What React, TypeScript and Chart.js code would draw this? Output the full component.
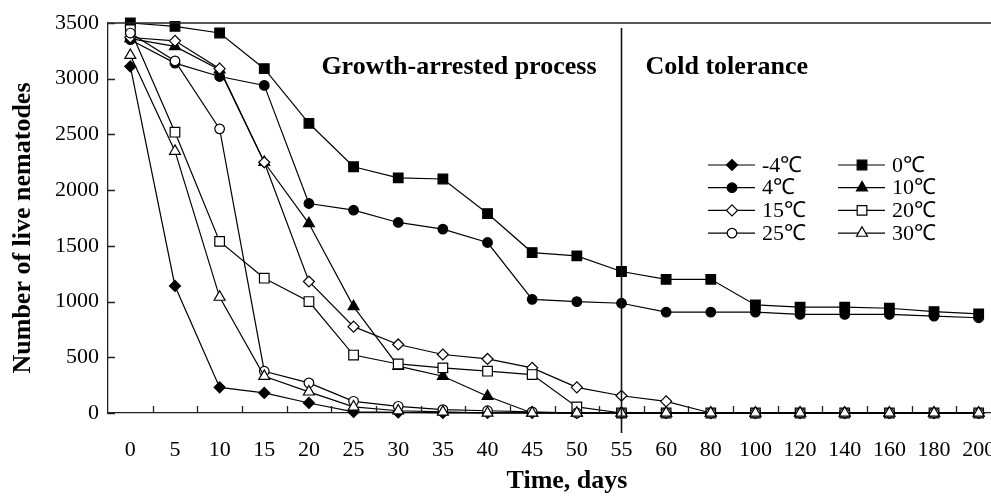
import React, { useEffect, useRef } from 'react';
import { Chart, registerables } from 'chart.js';
import { drawPoint } from 'chart.js/helpers';

Chart.register(...registerables);

const categories = ['0', '5', '10', '15', '20', '25', '30', '35', '40', '45', '50', '55', '60', '80', '100', '120', '140', '160', '180', '200'];

const seriesLabels = ['-4℃', '0℃', '4℃', '10℃', '15℃', '20℃', '25℃', '30℃'];

const tempM4 = [3110, 1140, 230, 180, 90, 10, 5, 0, 0, 0, 0, 0, 0, 0, 0, 0, 0, 0, 0, 0];
const temp0 = [3500, 3470, 3410, 3090, 2600, 2210, 2110, 2100, 1790, 1440, 1410, 1270, 1200, 1200, 970, 950, 950, 940, 910, 890];
const temp4 = [3350, 3140, 3020, 2940, 1880, 1820, 1710, 1650, 1530, 1020, 1000, 985, 905, 905, 905, 885, 885, 885, 870, 855];
const temp10 = [3360, 3290, 3080, 2250, 1700, 955, 420, 330, 150, 0, 0, 0, 0, 0, 0, 0, 0, 0, 0, 0];
const temp15 = [3370, 3340, 3090, 2250, 1180, 775, 615, 525, 485, 405, 230, 155, 105, 0, 0, 0, 0, 0, 0, 0];
const temp20 = [3440, 2520, 1540, 1210, 1000, 520, 440, 405, 375, 345, 55, 0, 0, 0, 0, 0, 0, 0, 0, 0];
const temp25 = [3410, 3160, 2550, 375, 270, 105, 60, 30, 20, 10, 0, 0, 0, 0, 0, 0, 0, 0, 0, 0];
const temp30 = [3210, 2350, 1040, 330, 190, 55, 20, 10, 0, 0, 0, 0, 0, 0, 0, 0, 0, 0, 0, 0];

const seriesValues = [tempM4, temp0, temp4, temp10, temp15, temp20, temp25, temp30];

const yMin = 0;
const yMax = 3500;
const yStep = 500;

const dividerCategory = '55';
const phaseLeftLabel = 'Growth-arrested process';
const phaseRightLabel = 'Cold tolerance';
const xTitle = 'Time, days';
const yTitle = 'Number of live nematodes';

const FONT = "'Liberation Serif', 'Times New Roman', Times, serif";

// marker styles per series (style only)
const markerStyles = [
  { pointStyle: 'rectRot', fill: '#000', radius: 5.5 },
  { pointStyle: 'rect', fill: '#000', radius: 6.8 },
  { pointStyle: 'circle', fill: '#000', radius: 4.8 },
  { pointStyle: 'triangle', fill: '#000', radius: 6.3 },
  { pointStyle: 'rectRot', fill: '#fff', radius: 5.5 },
  { pointStyle: 'rect', fill: '#fff', radius: 6.8 },
  { pointStyle: 'circle', fill: '#fff', radius: 4.8 },
  { pointStyle: 'triangle', fill: '#fff', radius: 6.3 },
];

const decorPlugin = {
  id: 'decor',
  afterDraw(chart: any) {
    const { ctx, chartArea: ca, scales } = chart;
    const x = scales.x;
    const y = scales.y;
    ctx.save();
    ctx.strokeStyle = '#222';
    ctx.lineWidth = 1.3;
    ctx.beginPath();
    // top frame
    ctx.moveTo(ca.left, ca.top);
    ctx.lineTo(ca.right, ca.top);
    // y inner ticks
    for (let i = 0; i < y.ticks.length; i++) {
      const py = Math.round(y.getPixelForTick(i)) + 0.5;
      ctx.moveTo(ca.left, py);
      ctx.lineTo(ca.left + 7, py);
    }
    // x inner ticks at category boundaries
    for (let i = 1; i <= categories.length; i++) {
      const px = Math.round(x.getPixelForValue(i - 0.5)) + 0.5;
      ctx.moveTo(px, ca.bottom);
      ctx.lineTo(px, ca.bottom - 7);
    }
    ctx.stroke();

    // divider line
    const dIdx = categories.indexOf(dividerCategory);
    const dx = Math.round(x.getPixelForValue(dIdx)) + 0.5;
    ctx.lineWidth = 1.6;
    ctx.strokeStyle = '#111';
    ctx.beginPath();
    ctx.moveTo(dx, ca.top + 5);
    ctx.lineTo(dx, ca.bottom + 20);
    ctx.stroke();

    // phase labels
    ctx.fillStyle = '#000';
    ctx.font = `bold 26px ${FONT}`;
    ctx.textBaseline = 'middle';
    const ty = y.getPixelForValue(3105);
    ctx.textAlign = 'right';
    ctx.fillText(phaseLeftLabel, dx - 25, ty);
    ctx.textAlign = 'left';
    ctx.fillText(phaseRightLabel, dx + 24, ty);

    // axis titles
    ctx.textAlign = 'center';
    ctx.fillText(xTitle, 567, 481);
    ctx.save();
    ctx.translate(23, 228);
    ctx.rotate(-Math.PI / 2);
    ctx.fillText(yTitle, 0, 0);
    ctx.restore();

    // legend (2 columns)
    ctx.font = `22px ${FONT}`;
    ctx.textAlign = 'left';
    ctx.textBaseline = 'middle';
    chart.data.datasets.forEach((ds: any, i: number) => {
      const col = i % 2;
      const row = Math.floor(i / 2);
      const lx = 708 + col * 130;
      const ly = 165 + row * 22.7;
      ctx.strokeStyle = '#000';
      ctx.lineWidth = 1.2;
      ctx.beginPath();
      ctx.moveTo(lx, ly);
      ctx.lineTo(lx + 47, ly);
      ctx.stroke();
      ctx.fillStyle = ds.pointBackgroundColor;
      ctx.strokeStyle = '#000';
      drawPoint(ctx, { pointStyle: ds.pointStyle, radius: ds.pointRadius, rotation: 0, borderWidth: 1.2 }, lx + 24, ly);
      ctx.fillStyle = '#000';
      ctx.fillText(ds.label, lx + 54, ly + 1);
    });
    ctx.restore();
  },
};

export default function App() {
  const ref = useRef<HTMLCanvasElement | null>(null);
  useEffect(() => {
    if (!ref.current) return;
    const datasets = seriesValues.map((vals, i) => ({
      label: seriesLabels[i],
      data: vals,
      borderColor: '#000',
      borderWidth: 1.2,
      pointStyle: markerStyles[i].pointStyle,
      pointRadius: markerStyles[i].radius,
      pointBackgroundColor: markerStyles[i].fill,
      pointBorderColor: '#000',
      pointBorderWidth: 1.2,
      tension: 0,
      fill: false,
      clip: false,
      order: seriesValues.length - 1 - i,
    }));
    const chart = new Chart(ref.current, {
      type: 'line',
      data: { labels: categories, datasets },
      options: {
        responsive: false,
        animation: false,
        devicePixelRatio: 1,
        layout: { padding: { top: 23, right: 1, bottom: 0, left: 0 } },
        plugins: { legend: { display: false }, tooltip: { enabled: false } },
        scales: {
          x: {
            type: 'category',
            offset: true,
            grid: { display: false, drawTicks: true, tickLength: 24 },
            border: { display: true, color: '#222', width: 1.3 },
            ticks: { color: '#000', font: { family: FONT, size: 22 }, padding: 0, maxRotation: 0, autoSkip: false },
            title: { display: false, text: xTitle },
            afterFit(s: any) { s.height = 84; },
          },
          y: {
            min: yMin,
            max: yMax,
            grid: { display: false, drawTicks: false },
            border: { display: true, color: '#222', width: 1.3 },
            ticks: { stepSize: yStep, color: '#000', font: { family: FONT, size: 22 }, padding: 9, callback: (v: any) => String(v) },
            title: { display: false, text: yTitle },
            afterFit(s: any) { s.width = 108; },
          },
        },
      },
      plugins: [decorPlugin],
    } as any);
    return () => chart.destroy();
  }, []);
  return (
    <div style={{ position: 'fixed', left: 0, top: 0, width: 991, height: 497, overflow: 'hidden', background: '#fff' }}>
      <canvas ref={ref} width={1009} height={497} style={{ width: 1009, height: 497, display: 'block' }} />
    </div>
  );
}
